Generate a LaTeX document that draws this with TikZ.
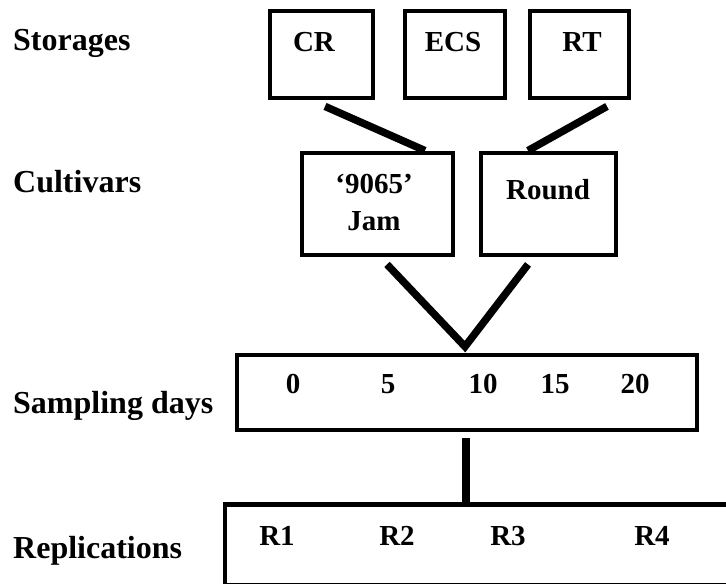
\documentclass[tikz,border=0pt]{standalone}
\usepackage{fontspec}
\setmainfont{Liberation Serif}
\usetikzlibrary{calc}
\begin{document}
\begin{tikzpicture}[x=1pt,y=1pt,
  box/.style={draw=black, line width=4.8pt, inner sep=0pt, rectangle},
  lbl/.style={font=\fontsize{32}{36}\selectfont\bfseries, inner sep=0pt, anchor=base},
  btxt/.style={font=\fontsize{29}{33}\selectfont\bfseries, inner sep=0pt, anchor=base, align=center},
  conn/.style={draw=black, line width=7.5pt, line join=miter}]
\useasboundingbox (0,0) rectangle (726,-584);
% row labels
\node[lbl, anchor=base west] (lstor) at (13,-50) {Storages};
\node[lbl, anchor=base west] (lcult) at (13,-192) {Cultivars};
\node[lbl, anchor=base west] (lsamp) at (13,-413) {Sampling days};
\node[lbl, anchor=base west] (lrep) at (13,-558) {Replications};
% storage boxes
\node[box, minimum width=103pt, minimum height=87pt] (CR) at (321.5,-54.5) {};
\node[box, minimum width=100pt, minimum height=87pt] (ECS) at (455,-54.5) {};
\node[box, minimum width=99pt, minimum height=87pt] (RT) at (579.5,-54.5) {};
\node[btxt] (CRt) at (314,-51) {CR};
\node[btxt] (ECSt) at (453,-51) {ECS};
\node[btxt] (RTt) at (582,-51) {RT};
% cultivar boxes
\node[box, minimum width=151pt, minimum height=102pt] (Jam) at (377.5,-204) {};
\node[box, minimum width=135pt, minimum height=102pt] (Round) at (548.5,-204) {};
\node[btxt] (Jamt1) at (374,-193) {‘9065’};
\node[btxt] (Jamt2) at (374,-230) {Jam};
\node[btxt] (Roundt) at (548,-199) {Round};
% sampling days box
\node[box, minimum width=460pt, minimum height=75pt] (Samp) at (467,-392.5) {};
\node[btxt] (d0) at (293,-393) {0};
\node[btxt] (d5) at (388,-393) {5};
\node[btxt] (d10) at (483,-393) {10};
\node[btxt] (d15) at (555,-393) {15};
\node[btxt] (d20) at (635,-393) {20};
% replications box (runs off the right and bottom edges)
\node[box, minimum width=510pt, minimum height=81pt] (Rep) at (480,-545) {};
\node[btxt] (r1) at (277,-545) {R1};
\node[btxt] (r2) at (397,-545) {R2};
\node[btxt] (r3) at (508,-545) {R3};
\node[btxt] (r4) at (652,-545) {R4};
% connectors
\draw[conn] ($(CR.south)+(3.5,-6)$) -- ($(Jam.north)+(47.5,0)$);
\draw[conn] ($(RT.south)+(27.5,-6)$) -- ($(Round.north)+(-20.5,0)$);
\coordinate (apex) at ($(Samp.north)+(-2,6)$);
\draw[conn] ($(Jam.south)+(9.5,-7)$) -- (apex) -- ($(Round.south)+(-20.5,-7)$);
\draw[conn] ($(Samp.south)+(-1,-6)$) -- ($(Rep.north)+(-14,0)$);
\end{tikzpicture}
\end{document}
